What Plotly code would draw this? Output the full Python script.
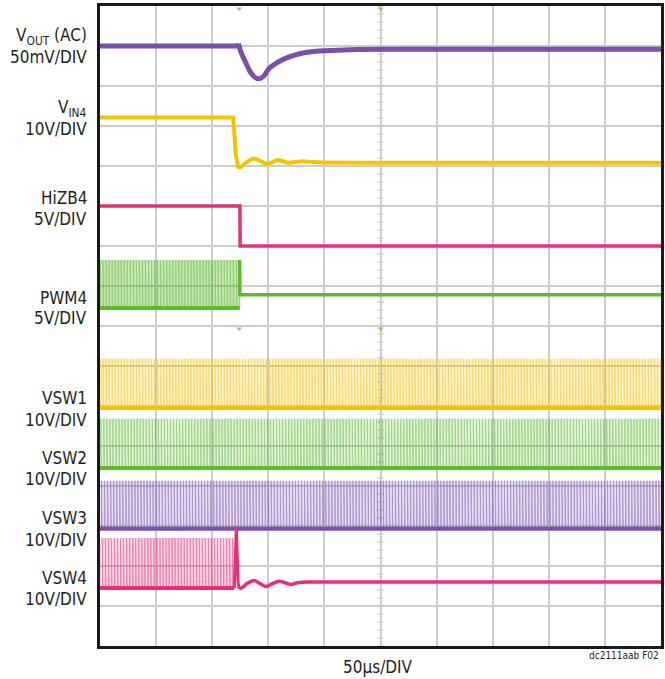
import numpy as np
import plotly.graph_objects as go

# ---------------- data (time in µs, amplitude in screen divisions from bottom) ----------------
X_RANGE = [0, 500]        # 10 div x 50 µs
Y_RANGE = [0, 16]         # two stacked 8-division scope screens

PURPLE = "#7b4fae"
YELLOW = "#f5c400"
PINK = "#e4307a"
GREEN = "#5fba30"

# VOUT (AC) 50mV/DIV
VOUT_T = [0, 122.5, 123.4]
VOUT_V = [15.0, 15.0, 15.06]
VOUT_TR_T = [123.4, 126, 130, 134, 138, 142, 146, 151, 156, 160, 168, 177, 190, 207, 230, 260, 320, 400, 500]
VOUT_TR_V = [15.06, 14.82, 14.58, 14.35, 14.22, 14.18, 14.25, 14.45, 14.55, 14.62, 14.72, 14.8, 14.86, 14.89, 14.91, 14.92, 14.92, 14.92, 14.92]

# VIN4 10V/DIV
VIN4_T = [0, 118.5, 119.5, 121, 123, 125]
VIN4_V = [13.21, 13.21, 12.9, 12.3, 11.98, 11.97]
VIN4_RING_T = [123, 125, 130, 137, 142, 148, 153, 158, 163, 168, 174, 180, 190, 200, 260, 350, 500]
VIN4_RING_V = [11.98, 11.97, 12.08, 12.19, 12.14, 12.06, 12.09, 12.15, 12.12, 12.08, 12.1, 12.12, 12.1, 12.09, 12.08, 12.08, 12.08]

# HiZB4 5V/DIV
HIZB4_T = [0, 124.7, 124.9, 500]
HIZB4_V = [11.0, 11.0, 10.0, 10.0]

# PWM4 5V/DIV (after switching stops)
PWM4_T = [124.5, 124.6, 500]
PWM4_V = [9.65, 8.78, 8.78]

# VSW4 10V/DIV (after switching stops)
VSW4_T = [119.7, 121.5, 123, 124]
VSW4_V = [1.45, 2.98, 1.6, 1.43]
VSW4_RING_T = [124, 127, 131, 137.4, 142, 147.8, 153, 159.6, 165, 170, 176, 185, 200, 260, 350, 500]
VSW4_RING_V = [1.43, 1.47, 1.56, 1.64, 1.57, 1.49, 1.55, 1.62, 1.58, 1.54, 1.58, 1.6, 1.6, 1.6, 1.6, 1.6]

# Switching (pulse) channels
PULSE_NAMES = ["PWM4", "VSW1", "VSW2", "VSW3", "VSW4"]
PULSE_COLORS = [GREEN, YELLOW, GREEN, PURPLE, PINK]
PULSE_LOW = [8.45, 5.95, 4.45, 2.93, 1.45]
PULSE_HIGH = [9.65, 7.18, 5.68, 4.13, 2.70]
PULSE_START = [0, 0, 0, 0, 0]
PULSE_END = [124.5, 500, 500, 500, 119.7]
PULSE_PHASE = [0.0, 0.0, 0.7, 1.4, 2.1]
SW_PERIOD_US = 2.7
PULSE_WIDTH_US = 0.5

# Labels (text, line position in px from the top of the picture)
LABELS = [
    ("V<sub>OUT</sub> (AC)", 36), ("50mV/DIV", 57),
    ("V<sub>IN4</sub>", 109), ("10V/DIV", 129),
    ("HiZB4", 198), ("5V/DIV", 219),
    ("PWM4", 298), ("5V/DIV", 318),
    ("VSW1", 398), ("10V/DIV", 420),
    ("VSW2", 458), ("10V/DIV", 479),
    ("VSW3", 518), ("10V/DIV", 540),
    ("VSW4", 578), ("10V/DIV", 599),
]
X_LABEL = "50µs/DIV"
FIG_ID = "dc2111aab F02"

# ---------------- figure ----------------
W, H = 665, 679
ML, MR, MT, MB = 100, 1, 6, 33
PLOT_H = H - MT - MB

fig = go.Figure()

# center vertical line minor ticks (scope graticule)
gy = np.arange(0, 16.001, 0.2)
fig.add_trace(go.Scatter(x=[250] * len(gy), y=gy, mode="markers",
                         marker=dict(symbol="line-ew-open", size=5, color="#c4c4c4", line=dict(width=1, color="#c4c4c4")),
                         hoverinfo="skip", showlegend=False))

# pulse channels: tinted band + edges + baseline
for name, col, lo, hi, t0, t1, ph in zip(PULSE_NAMES, PULSE_COLORS, PULSE_LOW, PULSE_HIGH,
                                         PULSE_START, PULSE_END, PULSE_PHASE):
    fig.add_trace(go.Scatter(x=[t0, t1, t1, t0, t0], y=[lo, lo, hi, hi, lo], mode="lines",
                             fill="toself", fillcolor=col, opacity=0.17 if name != "PWM4" else 0.33,
                             line=dict(width=0), hoverinfo="skip", showlegend=False))
    edges = np.arange(t0 + ph, t1, SW_PERIOD_US)
    xs, ys = [], []
    for t in edges:
        xs += [t, t, t + PULSE_WIDTH_US, t + PULSE_WIDTH_US]
        ys += [lo, hi, hi, lo]
    fig.add_trace(go.Scatter(x=xs, y=ys, mode="lines", line=dict(color=col, width=1),
                             opacity=0.5, hoverinfo="skip", showlegend=False))
    fig.add_trace(go.Scatter(x=[t0, t1], y=[lo, lo], mode="lines", line=dict(color=col, width=4),
                             hoverinfo="skip", showlegend=False))

# analog traces
for tx, vy, col, w, shp in [(VOUT_T, VOUT_V, PURPLE, 5, "linear"),
                            (VOUT_TR_T, VOUT_TR_V, PURPLE, 5, "spline"),
                            (VIN4_T, VIN4_V, YELLOW, 4, "linear"),
                            (VIN4_RING_T, VIN4_RING_V, YELLOW, 4, "spline"),
                            (HIZB4_T, HIZB4_V, PINK, 3.5, "linear"),
                            (PWM4_T, PWM4_V, GREEN, 3.5, "linear"),
                            (VSW4_T, VSW4_V, PINK, 3, "linear"),
                            (VSW4_RING_T, VSW4_RING_V, PINK, 3.5, "spline")]:
    fig.add_trace(go.Scatter(x=tx, y=vy, mode="lines",
                             line=dict(color=col, width=w, shape=shp, smoothing=0.9 if shp == "spline" else None),
                             hoverinfo="skip", showlegend=False))

# screen separator
fig.add_shape(type="line", x0=0, x1=500, y0=8, y1=8, line=dict(color="#8e8e8e", width=2), layer="below")

# trigger markers
fig.add_trace(go.Scatter(x=[124, 250, 124, 250], y=[15.93, 15.93, 7.93, 7.93], mode="markers",
                         marker=dict(symbol="triangle-down", size=5, color="#e3a35a"),
                         cliponaxis=False, hoverinfo="skip", showlegend=False))

font_fam = "DejaVu Sans Condensed, Liberation Sans Narrow, Arial Narrow, sans-serif"
for txt, ypx in LABELS:
    fig.add_annotation(text=txt, xref="paper", yref="paper", x=0, xshift=-11,
                       y=(H - MB - ypx) / PLOT_H, xanchor="right", yanchor="middle",
                       showarrow=False, font=dict(family=font_fam, size=17, color="#231f20"))

fig.add_annotation(text=X_LABEL, xref="x", yref="paper", x=248, y=(H - MB - 667) / PLOT_H,
                   xanchor="center", yanchor="middle", showarrow=False,
                   font=dict(family=font_fam, size=17, color="#231f20"))
fig.add_annotation(text=FIG_ID, xref="paper", yref="paper", x=1, y=(H - MB - 655) / PLOT_H,
                   xanchor="right", yanchor="middle", showarrow=False,
                   font=dict(family=font_fam, size=10, color="#231f20"))

axis_common = dict(showticklabels=False, ticks="", zeroline=False, showgrid=True,
                   gridcolor="#cdcdcd", gridwidth=1.5, showline=True, mirror=True,
                   linecolor="#1a1a1a", linewidth=2.5)
fig.update_xaxes(range=X_RANGE, dtick=50, tick0=0, **axis_common)
fig.update_yaxes(range=Y_RANGE, dtick=1, tick0=0, **axis_common)

fig.update_layout(width=W, height=H, margin=dict(l=ML, r=MR, t=MT, b=MB),
                  paper_bgcolor="white", plot_bgcolor="white", showlegend=False)

fig.write_html("out.html", config={"displayModeBar": False},
               post_script="document.body.style.margin='0';document.body.style.overflow='hidden';")
